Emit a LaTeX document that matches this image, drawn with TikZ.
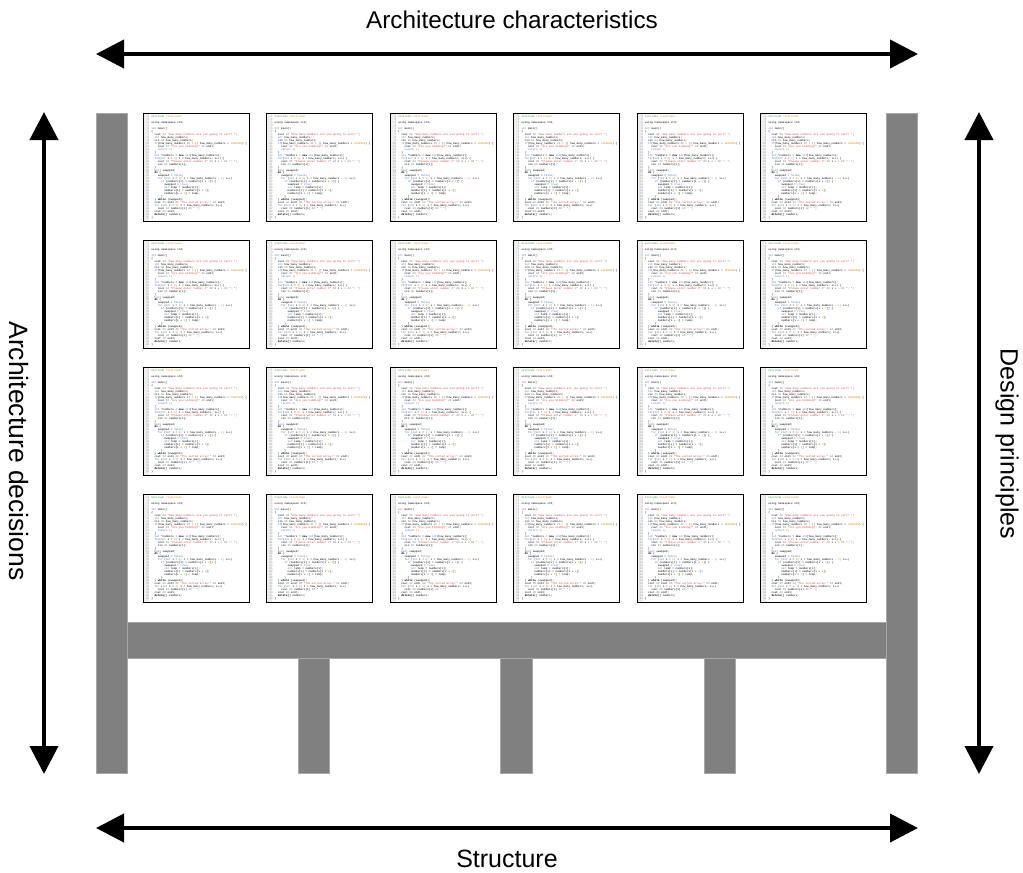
\documentclass[tikz,border=0pt]{standalone}
\usepackage{fontspec}
\setmainfont{Liberation Sans}
\setmonofont{Liberation Mono}
\usetikzlibrary{arrows.meta}

\definecolor{structfill}{HTML}{808080}
\definecolor{structedge}{HTML}{A8A8A8}
\definecolor{kwblue}{HTML}{3C78C8}
\definecolor{strred}{HTML}{E0403A}
\definecolor{numorange}{HTML}{E08A00}
\definecolor{ppgreen}{HTML}{3C9A3C}
\definecolor{guttergray}{HTML}{EEEEEE}
\definecolor{linenum}{HTML}{A0A0A0}

% small helpers for the listing
\newcommand\cind[1]{\hspace*{#1em}}
\newcommand\ckw[1]{\textcolor{kwblue}{#1}}
\newcommand\cstr[1]{\textcolor{strred}{#1}}
\newcommand\cnum[1]{\textcolor{numorange}{#1}}
\newcommand\clno[1]{\textcolor{linenum}{#1}}
\newsavebox\codebox

% the listing shown on every card, typeset once
\AtBeginDocument{%
\sbox\codebox{\fontsize{2.7}{2.95}\selectfont\ttfamily
\begin{tabular}{@{}r@{\hspace{2pt}}l@{}}
\clno{1} & \textcolor{ppgreen}{\#include} \cnum{<iostream>}\\
\clno{2} & \\
\clno{3} & using namespace std;\\
\clno{4} & \\
\clno{5} & \ckw{int} main()\\
\clno{6} & \{\\
\clno{7} & \cind{1.2}cout << \cstr{"How many numbers are you going to sort? "};\\
\clno{8} & \cind{1.2}\ckw{int} how\_many\_numbers;\\
\clno{9} & \cind{1.2}cin >> how\_many\_numbers;\\
\clno{10} & \cind{1.2}\ckw{if}(how\_many\_numbers <= \cnum{1} || how\_many\_numbers > \cnum{1000000}) \{\\
\clno{11} & \cind{2.4}cout << \cstr{"Are you kidding?"} << endl;\\
\clno{12} & \cind{2.4}\ckw{return} \cnum{1};\\
\clno{13} & \cind{1.2}\}\\
\clno{14} & \cind{1.2}\ckw{int} *numbers = \textbf{new} \ckw{int}[how\_many\_numbers];\\
\clno{15} & \cind{1.2}\ckw{for}(\ckw{int} i = \cnum{0}; i < how\_many\_numbers; i++) \{\\
\clno{16} & \cind{2.4}cout << \cstr{"Please enter number \#"} << i + \cnum{1} << \cstr{": "};\\
\clno{17} & \cind{2.4}cin >> numbers[i];\\
\clno{18} & \cind{1.2}\}\\
\clno{19} & \cind{1.2}\ckw{bool} swapped;\\
\clno{20} & \cind{1.2}\textbf{do} \{\\
\clno{21} & \cind{2.4}swapped = \ckw{false};\\
\clno{22} & \cind{2.4}\ckw{for} (\ckw{int} i = \cnum{0}; i < how\_many\_numbers - \cnum{1}; i++)\\
\clno{23} & \cind{3.6}\ckw{if} (numbers[i] > numbers[i + \cnum{1}]) \{\\
\clno{24} & \cind{4.8}swapped = \ckw{true};\\
\clno{25} & \cind{4.8}\ckw{int} temp = numbers[i];\\
\clno{26} & \cind{4.8}numbers[i] = numbers[i + \cnum{1}];\\
\clno{27} & \cind{4.8}numbers[i + \cnum{1}] = temp;\\
\clno{28} & \cind{3.6}\}\\
\clno{29} & \cind{1.2}\} \textbf{while} (swapped);\\
\clno{30} & \cind{1.2}cout << endl << \cstr{"The sorted array:"} << endl;\\
\clno{31} & \cind{1.2}\ckw{for} (\ckw{int} i = \cnum{0}; i < how\_many\_numbers; i++)\\
\clno{32} & \cind{2.4}cout << numbers[i] << \cstr{" "};\\
\clno{33} & \cind{1.2}cout << endl;\\
\clno{34} & \cind{1.2}\textbf{delete}[] numbers;\\
\clno{35} & \}
\end{tabular}}}

\tikzset{
  beam/.style={fill=structfill, draw=structedge, line width=1pt},
  codecard/.style={draw=black, line width=1pt, fill=white, inner sep=1.2pt,
    minimum width=106pt, minimum height=108pt,
    path picture={\fill[guttergray] (path picture bounding box.north west)
      rectangle ([xshift=5.5pt]path picture bounding box.south west);}},
  dimarrow/.style={line width=4pt, {Triangle[length=28pt,width=28pt]}-{Triangle[length=28pt,width=28pt]}},
  lbltext/.style={font=\fontsize{25}{30}\selectfont, inner sep=0pt},
}

\begin{document}
\begin{tikzpicture}[x=1pt, y=-1pt]
\fill[white] (0,0) rectangle (1023,873);
\useasboundingbox (0,0) rectangle (1023,873);

% the building: two side pillars, a floor beam and three legs
\draw[beam] (96,113) rectangle (127,773);
\draw[beam] (886,113) rectangle (917,773);
\draw[beam] (127,622) rectangle (886,658);
\draw[beam] (298,658) rectangle (329,773);
\draw[beam] (500,658) rectangle (532,773);
\draw[beam] (704,658) rectangle (735,773);

% six by four grid of code cards
\foreach \i in {0,...,5}{
  \foreach \j in {0,...,3}{
    \node[codecard, anchor=north west] (card-\i-\j)
      at ({143+123.4*\i},{113+127*\j}) {\usebox\codebox};
  }
}

% dimension arrows
\coordinate (topL) at (96,54);
\coordinate (topR) at (918,54);
\coordinate (botL) at (96,828);
\coordinate (botR) at (918,828);
\coordinate (lefT) at (44,112);
\coordinate (lefB) at (44,774);
\coordinate (rigT) at (979,112);
\coordinate (rigB) at (979,774);
\draw[dimarrow] (topL) -- (topR);
\draw[dimarrow] (botL) -- (botR);
\draw[dimarrow] (lefT) -- (lefB);
\draw[dimarrow] (rigT) -- (rigB);

% labels
\node[lbltext, font=\fontsize{24.3}{29}\selectfont] (chars) at (512,20) {Architecture characteristics};
\node[lbltext] (struct) at (507,859) {Structure};
\node[lbltext, rotate=-90, font=\fontsize{26.5}{31}\selectfont] (decis) at (19,451) {Architecture decisions};
\node[lbltext, rotate=-90] (princ) at (1007,444) {Design principles};
\end{tikzpicture}
\end{document}
